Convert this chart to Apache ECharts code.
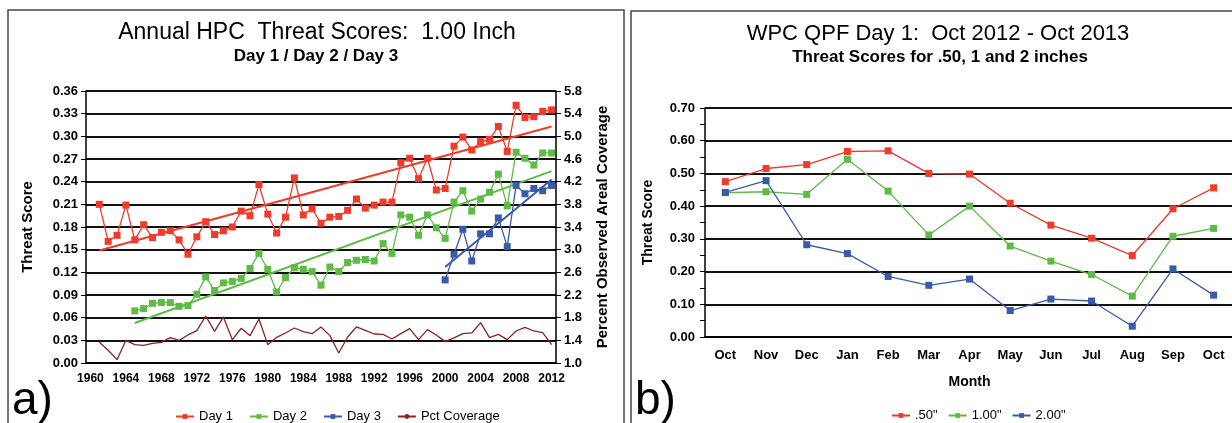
<!DOCTYPE html>
<html>
<head>
<meta charset="utf-8">
<script src="https://cdn.jsdelivr.net/npm/echarts@6/dist/echarts.min.js"></script>
<style>
html, body { margin: 0; padding: 0; background: #fff; }
#main { width: 1232px; height: 423px; }
</style>
</head>
<body>
<div id="main"></div>
<script>
var FONT = '"Liberation Sans", Arial, sans-serif';

// a) annual scores, 1.00 inch
var years = [1960, 1961, 1962, 1963, 1964, 1965, 1966, 1967, 1968, 1969,
	1970, 1971, 1972, 1973, 1974, 1975, 1976, 1977, 1978, 1979,
	1980, 1981, 1982, 1983, 1984, 1985, 1986, 1987, 1988, 1989,
	1990, 1991, 1992, 1993, 1994, 1995, 1996, 1997, 1998, 1999,
	2000, 2001, 2002, 2003, 2004, 2005, 2006, 2007, 2008, 2009,
	2010, 2011, 2012];
var day1Start = 1961;
var day1 = [0.210, 0.161, 0.169, 0.209, 0.163, 0.183, 0.166, 0.173, 0.175, 0.163,
	0.144, 0.167, 0.187, 0.170, 0.175, 0.180, 0.201, 0.195, 0.236, 0.197,
	0.172, 0.193, 0.245, 0.196, 0.204, 0.185, 0.193, 0.194, 0.202, 0.217,
	0.205, 0.209, 0.213, 0.213, 0.265, 0.271, 0.244, 0.271, 0.229, 0.231,
	0.287, 0.299, 0.282, 0.293, 0.296, 0.313, 0.280, 0.341, 0.325, 0.326,
	0.333, 0.335];
var day2Start = 1965;
var day2 = [0.069, 0.072, 0.079, 0.080, 0.080, 0.075, 0.076, 0.091, 0.114, 0.096,
	0.106, 0.108, 0.112, 0.125, 0.145, 0.124, 0.094, 0.113, 0.126, 0.124,
	0.121, 0.103, 0.127, 0.121, 0.133, 0.136, 0.137, 0.135, 0.158, 0.145,
	0.196, 0.193, 0.169, 0.196, 0.179, 0.165, 0.213, 0.228, 0.201, 0.217,
	0.226, 0.250, 0.208, 0.279, 0.271, 0.262, 0.278, 0.278];
var day3Start = 2000;
var day3 = [0.110, 0.144, 0.177, 0.135, 0.171, 0.171, 0.192, 0.154, 0.235, 0.224,
	0.231, 0.228, 0.235];
var pctStart = 1961;
var pctCoverage = [1.365, 1.224, 1.059, 1.400, 1.324, 1.312, 1.347, 1.365, 1.448, 1.400,
	1.495, 1.571, 1.830, 1.559, 1.813, 1.412, 1.613, 1.483, 1.777, 1.324,
	1.453, 1.530, 1.618, 1.554, 1.518, 1.636, 1.483, 1.177, 1.459, 1.636,
	1.577, 1.512, 1.506, 1.424, 1.518, 1.607, 1.412, 1.589, 1.495, 1.377,
	1.442, 1.518, 1.530, 1.713, 1.448, 1.506, 1.412, 1.565, 1.630, 1.565,
	1.536, 1.324];
// trend lines (start / end points)
var day1Trend = [[1961, 0.149], [2012, 0.313]];
var day2Trend = [[1965, 0.053], [2012, 0.254]];
var day3Trend = [[2000, 0.127], [2012, 0.243]];
var pctTicks = [1.0, 1.4, 1.8, 2.2, 2.6, 3.0, 3.4, 3.8, 4.2, 4.6, 5.0, 5.4, 5.8];

// b) monthly scores
var months = ['Oct', 'Nov', 'Dec', 'Jan', 'Feb', 'Mar', 'Apr', 'May', 'Jun', 'Jul', 'Aug', 'Sep', 'Oct'];
var ts050 = [0.475, 0.515, 0.527, 0.567, 0.569, 0.500, 0.498, 0.409, 0.342, 0.302, 0.249, 0.392, 0.456];
var ts100 = [0.441, 0.444, 0.436, 0.543, 0.446, 0.312, 0.400, 0.278, 0.232, 0.191, 0.125, 0.308, 0.332];
var ts200 = [0.442, 0.478, 0.282, 0.255, 0.185, 0.158, 0.177, 0.081, 0.116, 0.110, 0.033, 0.208, 0.128];

var RED = '#F03A2A', GREEN = '#5DBB46', BLUE = '#3A5BAA', BROWN = '#8B2323';

function pairs(start, arr) {
	return arr.map(function(v, i) { return [String(start + i), v]; });
}
function trend(arr) {
	return arr.map(function(p) { return [String(p[0]), p[1]]; });
}
function dataLine(name, color, data, xi, yi) {
	return {
		name: name, type: 'line', xAxisIndex: xi, yAxisIndex: yi, data: data,
		symbol: 'rect', symbolSize: 7, showAllSymbol: true,
		itemStyle: { color: color },
		lineStyle: { color: color, width: 1.3 },
		z: 3
	};
}
function trendLine(color, data) {
	return {
		type: 'line', xAxisIndex: 0, yAxisIndex: 0, data: data,
		symbol: 'none', silent: true, connectNulls: true,
		lineStyle: { color: color, width: 2 }, z: 2
	};
}

var axisBlack = { color: '#000', width: 1.5 };
var gridBlack = { color: '#111', width: 2 };
var tickLab = { color: '#000', fontWeight: 'bold', fontFamily: FONT };

function gtext(x, y, text, font, align) {
	return {
		type: 'text', x: x, y: y,
		style: { text: text, font: font, fill: '#000', align: align || 'center', verticalAlign: 'middle' }
	};
}

var myChart = echarts.init(document.getElementById('main'));
var option = {
	animation: false,
	textStyle: { fontFamily: FONT },
	graphic: [
		{ type: 'rect', shape: { x: 8, y: 10, width: 616, height: 430 }, style: { fill: 'none', stroke: '#444', lineWidth: 1.5 } },
		{ type: 'rect', shape: { x: 631, y: 11, width: 620, height: 430 }, style: { fill: 'none', stroke: '#444', lineWidth: 1.5 } },
		gtext(317, 33, 'Annual HPC  Threat Scores:  1.00 Inch', '23px ' + FONT),
		gtext(316, 56, 'Day 1 / Day 2 / Day 3', 'bold 17px ' + FONT),
		gtext(938, 34, 'WPC QPF Day 1:  Oct 2012 - Oct 2013', '22px ' + FONT),
		gtext(940, 57, 'Threat Scores for .50, 1 and 2 inches', 'bold 17px ' + FONT),
		gtext(12, 401, 'a)', '46px ' + FONT, 'left'),
		gtext(635, 401, 'b)', '46px ' + FONT, 'left')
	],
	legend: [{
		data: ['Day 1', 'Day 2', 'Day 3', 'Pct Coverage'],
		left: 170, top: 405, itemWidth: 18, itemHeight: 6, itemGap: 16,
		textStyle: { fontSize: 13, color: '#000', fontFamily: FONT }
	}, {
		data: ['.50"', '1.00"', '2.00"'],
		left: 886, top: 404, itemWidth: 18, itemHeight: 6, itemGap: 10,
		textStyle: { fontSize: 13, color: '#000', fontFamily: FONT }
	}],
	grid: [
		{ left: 86, top: 91, width: 470, height: 272, outerBoundsMode: 'none' },
		{ left: 705, top: 108, width: 529, height: 229, outerBoundsMode: 'none' }
	],
	xAxis: [{
		gridIndex: 0, type: 'category', boundaryGap: true,
		data: years.map(String),
		axisLine: { lineStyle: axisBlack },
		axisTick: { interval: 0, length: 5, lineStyle: { color: '#000' } },
		axisLabel: Object.assign({ interval: 3, margin: 10, fontSize: 12 }, tickLab)
	}, {
		gridIndex: 1, type: 'category', boundaryGap: true, data: months,
		name: 'Month', nameLocation: 'middle', nameGap: 38,
		nameTextStyle: { fontSize: 14, fontWeight: 'bold', color: '#000', fontFamily: FONT },
		axisLine: { lineStyle: axisBlack },
		axisTick: { interval: 0, length: 5, lineStyle: { color: '#000' } },
		axisLabel: Object.assign({ interval: 0, margin: 12, fontSize: 13 }, tickLab)
	}],
	yAxis: [{
		gridIndex: 0, type: 'value', min: 0, max: 0.36, interval: 0.03,
		name: 'Threat Score', nameLocation: 'middle', nameGap: 51, nameRotate: 90,
		nameTextStyle: { fontSize: 15, fontWeight: 'bold', color: '#000', fontFamily: FONT },
		axisLine: { show: true, lineStyle: axisBlack },
		axisTick: { show: true, length: 5, lineStyle: { color: '#000' } },
		axisLabel: Object.assign({ margin: 8, fontSize: 13, formatter: function(v) { return v.toFixed(2); } }, tickLab),
		splitLine: { show: true, lineStyle: gridBlack }
	}, {
		gridIndex: 0, type: 'value', position: 'right', min: 1.0, max: 5.8,
		name: 'Percent Observed Areal Coverage', nameLocation: 'middle', nameGap: 39, nameRotate: 90,
		nameTextStyle: { fontSize: 15, fontWeight: 'bold', color: '#000', fontFamily: FONT },
		axisLine: { show: true, lineStyle: axisBlack },
		axisTick: { show: true, length: 5, customValues: pctTicks, lineStyle: { color: '#000' } },
		axisLabel: Object.assign({ margin: 8, fontSize: 13, customValues: pctTicks, formatter: function(v) { return v.toFixed(1); } }, tickLab),
		splitLine: { show: false }
	}, {
		gridIndex: 1, type: 'value', min: 0, max: 0.7, interval: 0.1,
		name: 'Threat Score', nameLocation: 'middle', nameGap: 50, nameRotate: 90,
		nameTextStyle: { fontSize: 14, fontWeight: 'bold', color: '#000', fontFamily: FONT },
		axisLine: { show: true, lineStyle: axisBlack },
		axisTick: { show: true, length: 5, lineStyle: { color: '#000' } },
		minorTick: { show: true, splitNumber: 2, length: 5, lineStyle: { color: '#000' } },
		axisLabel: Object.assign({ margin: 10, fontSize: 13, formatter: function(v) { return v.toFixed(2); } }, tickLab),
		splitLine: { show: true, lineStyle: gridBlack }
	}],
	series: [
		trendLine(RED, trend(day1Trend)),
		trendLine(GREEN, trend(day2Trend)),
		trendLine(BLUE, trend(day3Trend)),
		dataLine('Day 1', RED, pairs(day1Start, day1), 0, 0),
		dataLine('Day 2', GREEN, pairs(day2Start, day2), 0, 0),
		dataLine('Day 3', BLUE, pairs(day3Start, day3), 0, 0),
		{
			name: 'Pct Coverage', type: 'line', xAxisIndex: 0, yAxisIndex: 1,
			data: pairs(pctStart, pctCoverage), symbol: 'none',
			itemStyle: { color: BROWN }, lineStyle: { color: BROWN, width: 1.3 }, z: 2
		},
		dataLine('.50"', RED, ts050, 1, 2),
		dataLine('1.00"', GREEN, ts100, 1, 2),
		dataLine('2.00"', BLUE, ts200, 1, 2)
	]
};
myChart.setOption(option);
window.onresize = myChart.resize;
</script>
</body>
</html>
